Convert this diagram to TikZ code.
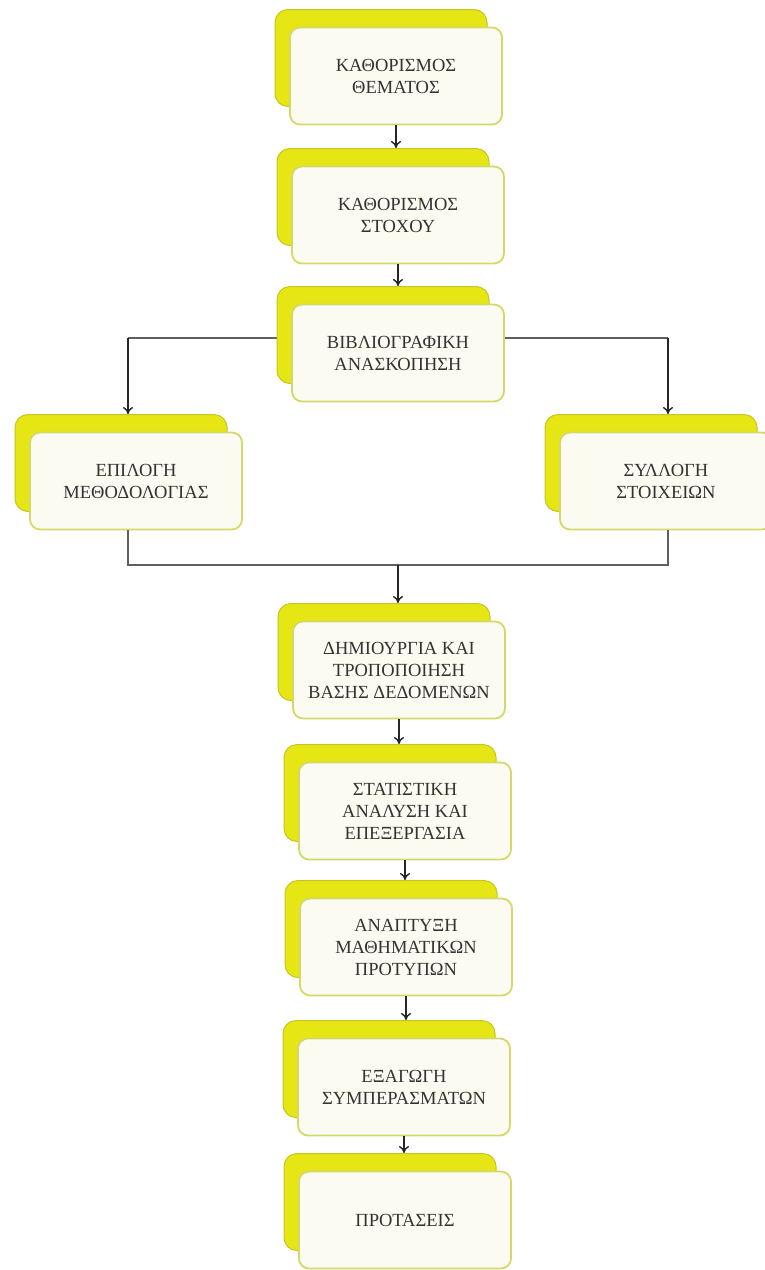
\documentclass[tikz,border=0pt]{standalone}
\usepackage{fontspec}
\setmainfont{Liberation Serif}
\usetikzlibrary{arrows.meta}

\definecolor{backyel}{RGB}{230,230,20}
\definecolor{backedge}{RGB}{198,198,35}
\definecolor{frontfill}{RGB}{251,251,241}
\definecolor{frontedge}{RGB}{212,216,105}
\definecolor{linkgray}{RGB}{95,95,95}

\tikzset{
  backbox/.style={draw=backedge, line width=1pt, fill=backyel, rounded corners=13pt,
    minimum width=212pt, minimum height=97pt},
  frontbox/.style={draw=frontedge, line width=1.8pt, fill=frontfill, rounded corners=10pt,
    minimum width=212pt, minimum height=97pt, align=center, text=black!80,
    font=\fontsize{18.5}{22}\selectfont},
  link/.style={draw=linkgray, line width=1.2pt},
  arrow/.style={draw=black!85, line width=1.4pt, -{To[length=7pt,width=10pt]}},
}

\begin{document}
\begin{tikzpicture}[x=1pt, y=-1pt]
            \useasboundingbox (0,0) rectangle (764,1270);

            % branch lines behind the boxes
            \coordinate (bl) at (128,338);
            \coordinate (br) at (668,338);
            \coordinate (jl) at (128,565);
            \coordinate (jm) at (398,565);
            \coordinate (jr) at (668,565);
            \draw[link] (bl) -- (br);

            \node[backbox] (themab) at (381,58) {};
            \node[frontbox] (thema) at ([shift={(15,18)}]themab.center) {ΚΑΘΟΡΙΣΜΟΣ\\ΘΕΜΑΤΟΣ};

            \node[backbox] (stoxosb) at (383,197) {};
            \node[frontbox] (stoxos) at ([shift={(15,18)}]stoxosb.center) {ΚΑΘΟΡΙΣΜΟΣ\\ΣΤΟΧΟΥ};

            \node[backbox] (vivliob) at (383,335) {};
            \node[frontbox] (vivlio) at ([shift={(15,18)}]vivliob.center) {ΒΙΒΛΙΟΓΡΑΦΙΚΗ\\ΑΝΑΣΚΟΠΗΣΗ};

            \node[backbox] (methb) at (121,463) {};
            \node[frontbox] (meth) at ([shift={(15,18)}]methb.center) {ΕΠΙΛΟΓΗ\\ΜΕΘΟΔΟΛΟΓΙΑΣ};

            \node[backbox] (syllb) at (651,463) {};
            \node[frontbox] (syll) at ([shift={(15,18)}]syllb.center) {ΣΥΛΛΟΓΗ\\ΣΤΟΙΧΕΙΩΝ};

            \node[backbox] (vasib) at (384,652) {};
            \node[frontbox] (vasi) at ([shift={(15,18)}]vasib.center) {ΔΗΜΙΟΥΡΓΙΑ ΚΑΙ\\ΤΡΟΠΟΠΟΙΗΣΗ\\ΒΑΣΗΣ ΔΕΔΟΜΕΝΩΝ};

            \node[backbox] (statb) at (390,793) {};
            \node[frontbox] (stat) at ([shift={(15,18)}]statb.center) {ΣΤΑΤΙΣΤΙΚΗ\\ΑΝΑΛΥΣΗ ΚΑΙ\\ΕΠΕΞΕΡΓΑΣΙΑ};

            \node[backbox] (protb) at (391,929) {};
            \node[frontbox] (prot) at ([shift={(15,18)}]protb.center) {ΑΝΑΠΤΥΞΗ\\ΜΑΘΗΜΑΤΙΚΩΝ\\ΠΡΟΤΥΠΩΝ};

            \node[backbox] (symperb) at (389,1069) {};
            \node[frontbox] (symper) at ([shift={(15,18)}]symperb.center) {ΕΞΑΓΩΓΗ\\ΣΥΜΠΕΡΑΣΜΑΤΩΝ};

            \node[backbox] (protasb) at (390,1202) {};
            \node[frontbox] (protas) at ([shift={(15,18)}]protasb.center) {ΠΡΟΤΑΣΕΙΣ};

            % arrows
            \draw[arrow] (thema.south) -- (thema.south |- stoxosb.north);
            \draw[arrow] (stoxos.south) -- (stoxos.south |- vivliob.north);
            \draw[arrow] (bl) -- (bl |- methb.north);
            \draw[arrow] (br) -- (br |- syllb.north);
            \draw[link] (meth.south -| jl) -- (jl) -- (jr) -- (syll.south -| jr);
            \draw[arrow] (jm) -- (jm |- vasib.north);
            \draw[arrow] (vasi.south) -- (vasi.south |- statb.north);
            \draw[arrow] (stat.south) -- (stat.south |- protb.north);
            \draw[arrow] (prot.south) -- (prot.south |- symperb.north);
            \draw[arrow] (symper.south) -- (symper.south |- protasb.north);
        \end{tikzpicture}
\end{document}
